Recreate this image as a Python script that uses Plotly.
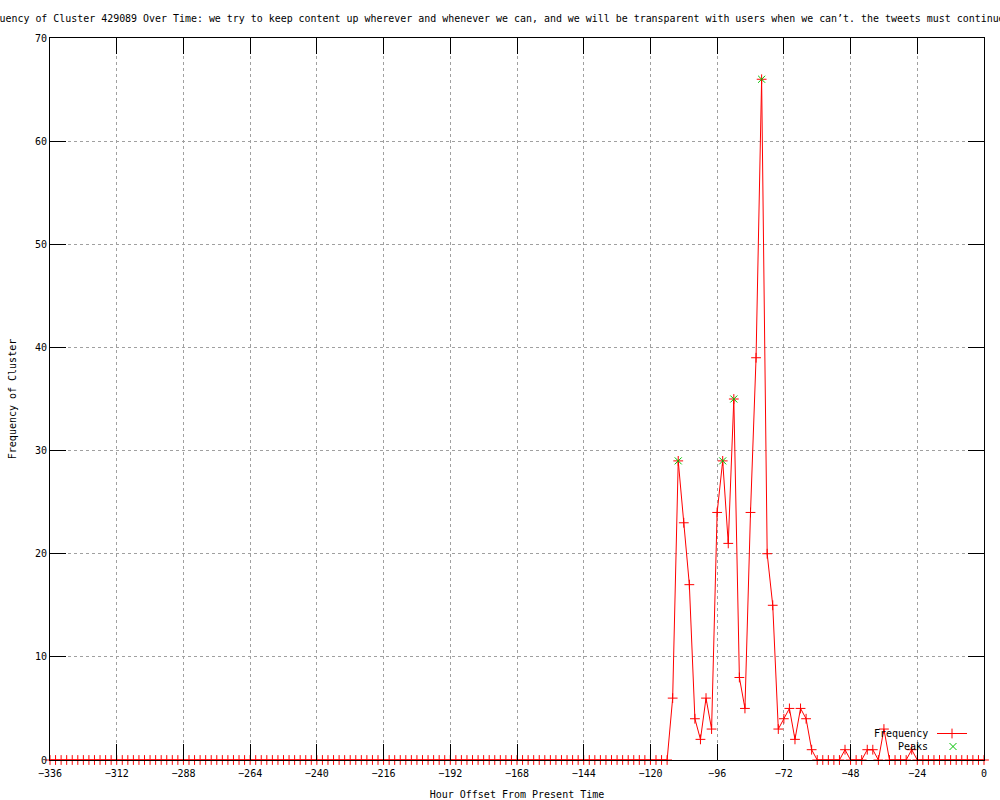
import plotly.graph_objects as go

# Hour offsets (every 2 hours from -336 to 0)
hours = list(range(-336, 1, 2))

# Frequency values, one per hour offset above
frequency = [
    0, 0, 0, 0, 0, 0, 0, 0, 0, 0, 0, 0, 0, 0, 0, 0,   # -336 .. -306
    0, 0, 0, 0, 0, 0, 0, 0, 0, 0, 0, 0, 0, 0, 0, 0,   # -304 .. -274
    0, 0, 0, 0, 0, 0, 0, 0, 0, 0, 0, 0, 0, 0, 0, 0,   # -272 .. -242
    0, 0, 0, 0, 0, 0, 0, 0, 0, 0, 0, 0, 0, 0, 0, 0,   # -240 .. -210
    0, 0, 0, 0, 0, 0, 0, 0, 0, 0, 0, 0, 0, 0, 0, 0,   # -208 .. -178
    0, 0, 0, 0, 0, 0, 0, 0, 0, 0, 0, 0, 0, 0, 0, 0,   # -176 .. -146
    0, 0, 0, 0, 0, 0, 0, 0, 0, 0, 0, 0, 0, 0, 0, 0,   # -144 .. -114
    6, 29, 23, 17, 4, 2, 6, 3, 24, 29, 21, 35, 8, 5, 24, 39,  # -112 .. -82
    66, 20, 15, 3, 4, 5, 2, 5, 4, 1, 0, 0, 0, 0, 0, 1,        # -80 .. -50
    0, 0, 0, 1, 1, 0, 3, 0, 0, 0, 0, 1, 0, 0, 0, 0,           # -48 .. -18
    0, 0, 0, 0, 0, 0, 0, 0, 0,                                # -16 .. 0
]

# Peaks
peak_hours = [-110, -94, -90, -80]
peak_values = [29, 29, 35, 66]

x_ticks = [-336, -312, -288, -264, -240, -216, -192, -168, -144, -120, -96, -72, -48, -24, 0]
y_ticks = [0, 10, 20, 30, 40, 50, 60, 70]

title_text = ("Frequency of Cluster 429089 Over Time: we try to keep content up wherever and "
              "whenever we can, and we will be transparent with users when we can\u2019t. "
              "the tweets must continue to flow.")

FONT = "DejaVu Sans Mono"
RED = "#ff0000"
GREEN = "#00c000"

W, H = 1000, 800
ML, MR, MT, MB = 50, 16, 38, 40
PL, PR, PT, PB = ML, W - MR, MT, H - MB


def px_x(p):
    return (p - PL) / (PR - PL)


def px_y(p):
    return (PB - p) / (PB - PT)


fig = go.Figure()
fig.add_trace(go.Scatter(
    x=hours, y=frequency, mode="lines+markers", name=" ", legend="legend",
    line=dict(color=RED, width=1),
    marker=dict(symbol="cross-thin", size=7, line=dict(color=RED, width=1), color=RED),
    cliponaxis=False,
))
fig.add_trace(go.Scatter(
    x=peak_hours, y=peak_values, mode="markers", name=" ", legend="legend2",
    marker=dict(symbol="x-thin", size=7, line=dict(color=GREEN, width=1), color=GREEN),
    cliponaxis=False,
))

axis_common = dict(
    showline=True, linecolor="black", linewidth=1, mirror="ticks",
    ticks="inside", ticklen=16, tickcolor="black", tickwidth=1,
    showgrid=True, gridcolor="#a0a0a0", gridwidth=1, griddash="dot",
    zeroline=False, automargin=False,
    tickfont=dict(family=FONT, size=10, color="black"),
)

legend_common = dict(xanchor="left", yanchor="top", bgcolor="rgba(0,0,0,0)",
                     borderwidth=0, font=dict(family=FONT, size=10), itemwidth=30)

fig.update_layout(
    width=W, height=H,
    paper_bgcolor="white", plot_bgcolor="white",
    margin=dict(l=ML, r=MR, t=MT, b=MB, autoexpand=False),
    font=dict(family=FONT, size=10, color="black"),
    title=dict(text=title_text, x=0.5, xref="paper", xanchor="center",
               y=1 - 19 / H, yref="container", yanchor="middle",
               font=dict(family=FONT, size=9.95, color="black")),
    xaxis=dict(range=[-336, 0], tickvals=x_ticks,
               ticktext=[str(v).replace("-", "\u2212") for v in x_ticks],
               ticklabelstandoff=4,
               title=dict(text="Hour Offset From Present Time", standoff=13,
                          font=dict(family=FONT, size=10)),
               **axis_common),
    yaxis=dict(range=[0, 70], tickvals=y_ticks,
               title=dict(text="Frequency of Cluster", standoff=16,
                          font=dict(family=FONT, size=10)),
               **axis_common),
    showlegend=True,
    legend=dict(x=px_x(932), y=px_y(719), **legend_common),
    legend2=dict(x=px_x(933), y=px_y(732), **legend_common),
    annotations=[
        dict(text="Frequency", x=px_x(930), y=px_y(733), xref="paper", yref="paper",
             xanchor="right", yanchor="middle", showarrow=False,
             font=dict(family=FONT, size=10, color="black")),
        dict(text="Peaks", x=px_x(930), y=px_y(746), xref="paper", yref="paper",
             xanchor="right", yanchor="middle", showarrow=False,
             font=dict(family=FONT, size=10, color="black")),
    ],
)

fig.write_html("out.html",
               config={"displayModeBar": False},
               post_script="document.body.style.margin='0';document.body.style.padding='0';")
